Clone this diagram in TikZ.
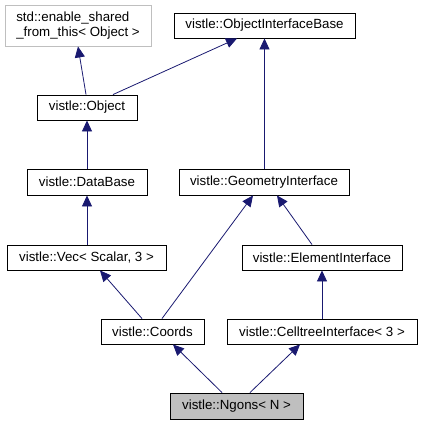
\documentclass[tikz,border=0pt]{standalone}
\usepackage{fontspec}
\setmainfont{Liberation Sans}
\usepackage{tikz}
\usetikzlibrary{arrows.meta, positioning, calc}
\usepackage{xcolor}
\definecolor{edgecolor}{HTML}{191970}
\definecolor{greyborder}{HTML}{BFBFBF}

\begin{document}
\begin{tikzpicture}[x=1pt, y=-1pt,
  every node/.style={font=\fontsize{13.3}{14.5}\selectfont},
  cls/.style={draw, line width=0.9pt, rectangle, minimum height=25pt, inner xsep=5pt, inner ysep=2pt},
  inh/.style={-{Triangle[length=11pt, width=10pt]}, edgecolor, line width=0.8pt}]
  \useasboundingbox (0,0) rectangle (421,425);

  % Top row
  \node[cls, draw=greyborder, align=left, minimum width=146pt, minimum height=41pt] (esft) at (78, 25.5) {std::enable\_shared\\\_from\_this< Object >};
  \node[cls, minimum width=181pt] (oib) at (264.5, 25.5) {vistle::ObjectInterfaceBase};

  % Left branch
  \node[cls, minimum width=100pt] (obj) at (87, 107.5) {vistle::Object};
  \node[cls, minimum width=120pt, minimum height=26pt] (db) at (87, 182) {vistle::DataBase};
  \node[cls, minimum width=159pt] (vec) at (86.5, 257.5) {vistle::Vec< Scalar, 3 >};
  \node[cls, minimum width=103pt] (coords) at (152.5, 331.5) {vistle::Coords};

  % Right branch
  \node[cls, minimum width=170pt, minimum height=26pt] (geo) at (264, 182) {vistle::GeometryInterface};
  \node[cls, minimum width=160pt] (elem) at (322, 257.5) {vistle::ElementInterface};
  \node[cls, minimum width=190pt] (cti) at (322, 331.5) {vistle::CelltreeInterface< 3 >};

  % The class itself
  \node[cls, fill=greyborder, minimum width=133pt, minimum height=26pt] (ngons) at (236.5, 406) {vistle::Ngons< N >};

  % Inheritance edges
  \draw[inh] ([xshift=-1pt]obj.north) -- (esft.south);
  \draw[inh] ([xshift=26pt]obj.north) -- ([xshift=-27.5pt]oib.south);
  \draw[inh] (db.north) -- (obj.south);
  \draw[inh] (vec.north -| db.south) -- (db.south);
  \draw[inh] (geo.north -| oib.south) -- (oib.south);
  \draw[inh] ([xshift=-10.5pt]coords.north) -- ([xshift=13.5pt]vec.south);
  \draw[inh] ([xshift=9.5pt]coords.north) -- ([xshift=-11pt]geo.south);
  \draw[inh] ([xshift=-10pt]elem.north) -- ([xshift=13pt]geo.south);
  \draw[inh] (cti.north) -- (elem.south);
  \draw[inh] ([xshift=-14.5pt]ngons.north) -- ([xshift=20.5pt]coords.south);
  \draw[inh] ([xshift=13.5pt]ngons.north) -- ([xshift=-22pt]cti.south);
\end{tikzpicture}
\end{document}
